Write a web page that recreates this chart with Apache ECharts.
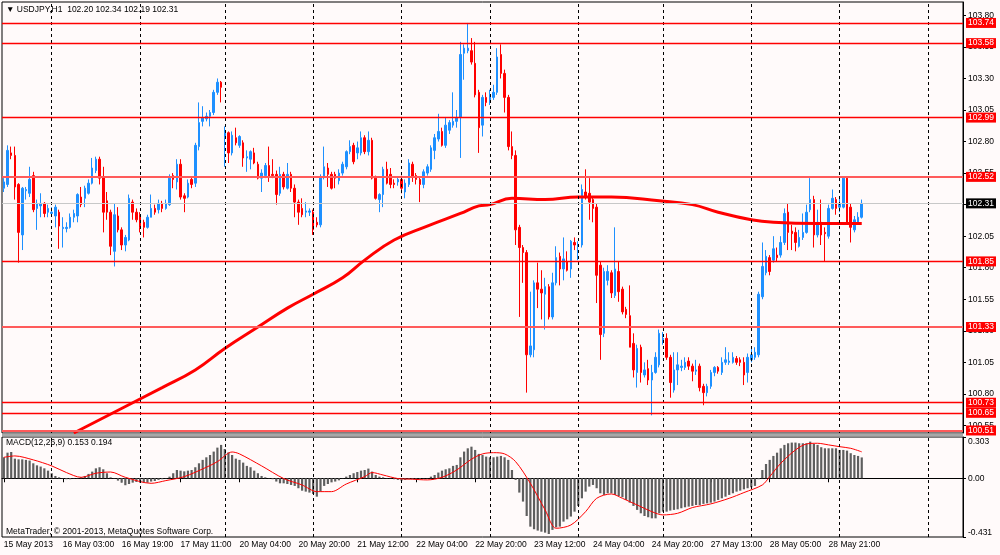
<!DOCTYPE html>
<html>
<head>
<meta charset="utf-8">
<title>USDJPY,H1</title>
<script src="https://cdn.jsdelivr.net/npm/echarts@6/dist/echarts.min.js"></script>
<style>
  html, body { margin: 0; padding: 0; background: #fffafa; }
  #chart { width: 1000px; height: 555px; }
</style>
</head>
<body>
<div id="chart"></div>
<script>
// USDJPY H1, 15 May 2013 11:00 .. 29 May 2013, one entry per hourly bar
const opens = [
  102.43, 102.46, 102.71, 102.69, 102.46, 102.06, 102.41, 102.39, 102.53, 102.27,
  102.29, 102.31, 102.24, 102.23, 102.21, 102.24, 102.11, 102.11, 102.12, 102.20,
  102.21, 102.36, 102.35, 102.39, 102.47, 102.57, 102.66, 102.52, 102.33, 102.24,
  101.93, 102.21, 102.10, 101.98, 102.02, 102.32, 102.24, 102.22, 102.16, 102.12,
  102.20, 102.27, 102.26, 102.31, 102.27, 102.30, 102.53, 102.48, 102.62, 102.37,
  102.36, 102.50, 102.47, 102.76, 102.96, 102.98, 103.00, 103.03, 103.19, 103.27,
  102.83, 102.87, 102.71, 102.83, 102.77, 102.79, 102.67, 102.66, 102.71, 102.62,
  102.51, 102.53, 102.61, 102.54, 102.54, 102.39, 102.54, 102.43, 102.54, 102.43,
  102.32, 102.27, 102.24, 102.24, 102.24, 102.16, 102.14, 102.52, 102.59, 102.54,
  102.54, 102.49, 102.55, 102.60, 102.72, 102.77, 102.71, 102.71, 102.83, 102.72,
  102.81, 102.51, 102.34, 102.38, 102.58, 102.54, 102.47, 102.48, 102.50, 102.40,
  102.46, 102.62, 102.53, 102.50, 102.46, 102.55, 102.58, 102.73, 102.82, 102.88,
  102.77, 102.89, 102.93, 102.96, 102.99, 103.50, 103.52, 103.52, 103.42, 103.19,
  102.93, 103.15, 103.13, 103.15, 103.19, 103.49, 103.34, 103.15, 102.76, 102.69,
  102.12, 101.96, 101.92, 101.11, 101.15, 101.68, 101.63, 101.59, 101.65, 101.41,
  101.68, 101.89, 101.79, 101.85, 101.79, 102.00, 101.97, 101.98, 102.40, 102.39,
  102.34, 102.28, 101.82, 101.28, 101.70, 101.76, 101.58, 101.77, 101.63, 101.47,
  101.42, 101.20, 100.97, 101.17, 100.95, 101.00, 100.91, 100.97, 101.03, 101.23,
  101.24, 101.09, 100.83, 100.99, 101.01, 101.01, 101.06, 101.02, 100.98, 101.02,
  100.86, 100.81, 100.86, 100.97, 101.01, 100.97, 101.05, 101.05, 101.05, 101.08,
  101.07, 101.05, 100.97, 101.07, 101.09, 101.11, 101.57, 101.76, 101.88, 101.86,
  101.90, 101.90, 102.00, 102.24, 102.09, 102.08, 101.97, 102.04, 102.08, 102.26,
  102.34, 102.06, 102.16, 102.08, 102.05, 102.27, 102.34, 102.28, 102.28, 102.51,
  102.28, 102.10, 102.16, 102.20
];
const highs = [
  102.51, 102.77, 102.76, 102.76, 102.47, 102.44, 102.44, 102.60, 102.56, 102.34,
  102.39, 102.32, 102.30, 102.28, 102.30, 102.26, 102.20, 102.16, 102.23, 102.26,
  102.39, 102.44, 102.45, 102.50, 102.67, 102.68, 102.68, 102.60, 102.40, 102.26,
  102.31, 102.28, 102.12, 102.06, 102.38, 102.34, 102.27, 102.24, 102.18, 102.22,
  102.38, 102.30, 102.34, 102.33, 102.34, 102.54, 102.55, 102.66, 102.66, 102.39,
  102.50, 102.52, 102.79, 103.11, 103.08, 103.03, 103.05, 103.21, 103.30, 103.28,
  102.92, 102.88, 102.88, 102.91, 102.85, 102.81, 102.73, 102.73, 102.75, 102.64,
  102.58, 102.63, 102.76, 102.66, 102.57, 102.60, 102.56, 102.63, 102.56, 102.46,
  102.34, 102.35, 102.32, 102.27, 102.26, 102.20, 102.54, 102.76, 102.63, 102.56,
  102.56, 102.58, 102.64, 102.73, 102.81, 102.79, 102.80, 102.88, 102.85, 102.88,
  102.83, 102.53, 102.39, 102.60, 102.64, 102.59, 102.50, 102.52, 102.53, 102.50,
  102.66, 102.64, 102.55, 102.52, 102.58, 102.62, 102.77, 102.86, 103.02, 102.91,
  102.99, 102.97, 103.19, 103.05, 103.59, 103.57, 103.74, 103.62, 103.59, 103.21,
  103.17, 103.19, 103.21, 103.25, 103.54, 103.57, 103.37, 103.17, 102.88, 102.73,
  102.14, 101.98, 101.94, 101.61, 101.70, 101.84, 101.78, 101.72, 101.67, 101.76,
  101.97, 101.92, 102.04, 101.93, 102.02, 102.04, 102.01, 102.46, 102.58, 102.51,
  102.36, 102.31, 101.85, 101.80, 101.82, 101.78, 102.12, 101.85, 101.65, 101.49,
  101.66, 101.28, 101.19, 101.19, 101.05, 101.07, 101.03, 101.13, 101.31, 101.29,
  101.28, 101.11, 101.13, 101.13, 101.07, 101.09, 101.09, 101.04, 101.07, 101.04,
  100.88, 100.88, 100.99, 101.02, 101.02, 101.09, 101.17, 101.13, 101.13, 101.10,
  101.09, 101.09, 101.12, 101.17, 101.17, 101.61, 102.00, 101.94, 101.90, 102.05,
  101.96, 102.05, 102.27, 102.31, 102.14, 102.12, 102.10, 102.23, 102.30, 102.51,
  102.37, 102.26, 102.34, 102.12, 102.30, 102.42, 102.36, 102.35, 102.52, 102.52,
  102.31, 102.21, 102.24, 102.34
];
const lows = [
  102.40, 102.44, 102.66, 102.34, 101.84, 101.94, 102.34, 102.36, 102.24, 102.10,
  102.20, 102.20, 102.20, 102.21, 102.12, 101.95, 101.96, 102.08, 102.11, 102.16,
  102.16, 102.28, 102.28, 102.38, 102.46, 102.55, 102.46, 102.08, 102.18, 101.90,
  101.81, 102.08, 101.94, 101.93, 102.01, 102.18, 102.16, 102.08, 102.04, 102.11,
  102.20, 102.22, 102.23, 102.24, 102.26, 102.29, 102.43, 102.42, 102.34, 102.24,
  102.35, 102.43, 102.44, 102.73, 102.92, 102.96, 102.92, 103.01, 103.17, 103.11,
  102.60, 102.63, 102.69, 102.77, 102.75, 102.60, 102.56, 102.58, 102.62, 102.50,
  102.40, 102.51, 102.48, 102.51, 102.30, 102.37, 102.42, 102.42, 102.40, 102.20,
  102.14, 102.20, 102.20, 102.21, 102.06, 102.12, 102.12, 102.50, 102.44, 102.42,
  102.43, 102.46, 102.53, 102.58, 102.70, 102.62, 102.66, 102.69, 102.70, 102.69,
  102.50, 102.34, 102.24, 102.28, 102.46, 102.43, 102.43, 102.45, 102.39, 102.35,
  102.44, 102.48, 102.46, 102.32, 102.43, 102.53, 102.56, 102.66, 102.80, 102.76,
  102.75, 102.86, 102.91, 102.91, 102.67, 103.29, 103.50, 103.41, 103.15, 102.71,
  102.84, 103.08, 103.09, 103.13, 103.17, 103.30, 103.03, 102.73, 102.66, 101.98,
  101.41, 101.68, 100.81, 101.09, 101.09, 101.48, 101.39, 101.31, 101.39, 101.39,
  101.66, 101.66, 101.70, 101.77, 101.72, 101.94, 101.86, 101.96, 102.34, 102.18,
  102.16, 101.52, 101.07, 101.25, 101.66, 101.56, 101.56, 101.53, 101.43, 101.40,
  101.17, 100.93, 100.85, 100.89, 100.93, 100.87, 100.63, 100.96, 101.01, 101.19,
  101.07, 100.77, 100.81, 100.87, 100.98, 100.99, 100.99, 100.90, 100.95, 100.82,
  100.71, 100.78, 100.84, 100.94, 100.96, 100.95, 101.03, 101.03, 101.04, 101.03,
  101.02, 100.87, 100.89, 101.05, 101.07, 101.09, 101.55, 101.74, 101.74, 101.84,
  101.85, 101.88, 101.98, 101.94, 101.94, 101.93, 101.96, 102.02, 102.07, 102.24,
  101.96, 102.04, 101.98, 101.85, 102.03, 102.26, 102.22, 102.24, 102.27, 102.15,
  102.00, 102.08, 102.14, 102.19
];
const closes = [
  102.48, 102.73, 102.69, 102.44, 102.08, 102.43, 102.42, 102.50, 102.26, 102.31,
  102.31, 102.23, 102.27, 102.24, 102.28, 102.13, 102.12, 102.12, 102.20, 102.23,
  102.38, 102.30, 102.43, 102.47, 102.59, 102.66, 102.51, 102.24, 102.24, 101.97,
  102.22, 102.10, 101.98, 102.04, 102.35, 102.24, 102.18, 102.12, 102.12, 102.20,
  102.27, 102.24, 102.31, 102.27, 102.31, 102.51, 102.50, 102.62, 102.36, 102.35,
  102.47, 102.46, 102.77, 102.95, 102.99, 103.00, 103.03, 103.19, 103.27, 103.23,
  102.87, 102.71, 102.85, 102.79, 102.84, 102.67, 102.68, 102.72, 102.63, 102.51,
  102.55, 102.61, 102.52, 102.53, 102.38, 102.54, 102.44, 102.54, 102.43, 102.32,
  102.24, 102.22, 102.25, 102.25, 102.10, 102.14, 102.52, 102.60, 102.54, 102.43,
  102.51, 102.55, 102.62, 102.72, 102.76, 102.64, 102.75, 102.83, 102.72, 102.81,
  102.51, 102.35, 102.38, 102.58, 102.47, 102.46, 102.46, 102.50, 102.43, 102.47,
  102.63, 102.52, 102.50, 102.46, 102.56, 102.60, 102.75, 102.83, 102.88, 102.77,
  102.93, 102.95, 102.96, 102.99, 103.49, 103.54, 103.54, 103.43, 103.17, 102.91,
  103.15, 103.11, 103.17, 103.19, 103.47, 103.34, 103.15, 102.76, 102.69, 102.10,
  101.96, 101.92, 101.11, 101.18, 101.68, 101.63, 101.60, 101.65, 101.41, 101.68,
  101.88, 101.79, 101.87, 101.78, 102.01, 101.98, 101.98, 102.42, 102.36, 102.32,
  102.27, 101.74, 101.27, 101.77, 101.77, 101.60, 101.79, 101.61, 101.45, 101.43,
  101.17, 100.99, 101.16, 100.97, 100.99, 100.91, 100.97, 101.09, 101.28, 101.24,
  101.09, 100.89, 100.99, 101.03, 101.02, 101.05, 101.02, 100.98, 100.99, 100.85,
  100.81, 100.86, 100.97, 101.01, 100.98, 101.05, 101.07, 101.06, 101.09, 101.05,
  101.05, 100.95, 101.09, 101.11, 101.13, 101.59, 101.81, 101.89, 101.77, 101.95,
  101.88, 102.00, 102.23, 102.08, 102.07, 102.00, 102.04, 102.08, 102.24, 102.34,
  102.06, 102.16, 102.06, 102.07, 102.27, 102.35, 102.27, 102.31, 102.51, 102.16,
  102.12, 102.18, 102.20, 102.31
];

// MACD(12,26,9) main line (grey histogram), one value per bar
const macd = [
  0.154, 0.188, 0.193, 0.144, 0.139, 0.139, 0.135, 0.130, 0.110, 0.095,
  0.086, 0.073, 0.056, 0.037, 0.017, 0.007, -0.002, -0.007, -0.007, -0.002,
  0.002, 0.007, 0.017, 0.032, 0.049, 0.073, 0.081, 0.066, 0.037, 0.007,
  -0.002, -0.017, -0.032, -0.051, -0.042, -0.032, -0.027, -0.032, -0.032, -0.032,
  -0.024, -0.020, -0.012, -0.007, -0.002, 0.012, 0.037, 0.061, 0.056, 0.051,
  0.056, 0.061, 0.081, 0.110, 0.135, 0.154, 0.171, 0.196, 0.225, 0.245,
  0.215, 0.190, 0.171, 0.144, 0.135, 0.115, 0.091, 0.081, 0.056, 0.037,
  0.017, 0.007, 0.002, -0.007, -0.024, -0.037, -0.037, -0.042, -0.049, -0.056,
  -0.073, -0.091, -0.098, -0.105, -0.115, -0.135, -0.098, -0.056, -0.042, -0.030,
  -0.024, -0.015, -0.002, 0.012, 0.024, 0.037, 0.046, 0.056, 0.061, 0.071,
  0.049, 0.024, 0.012, 0.007, 0.002, -0.002, -0.007, -0.012, -0.017, -0.012,
  -0.007, -0.007, -0.007, -0.005, -0.002, -0.002, 0.012, 0.024, 0.042, 0.056,
  0.066, 0.073, 0.091, 0.098, 0.154, 0.196, 0.220, 0.232, 0.208, 0.179,
  0.171, 0.159, 0.154, 0.154, 0.159, 0.164, 0.154, 0.135, 0.061, -0.012,
  -0.105, -0.171, -0.277, -0.355, -0.374, -0.384, -0.392, -0.399, -0.409, -0.379,
  -0.360, -0.355, -0.318, -0.301, -0.281, -0.245, -0.203, -0.147, -0.098, -0.061,
  -0.049, -0.073, -0.110, -0.122, -0.110, -0.110, -0.122, -0.130, -0.139, -0.159,
  -0.179, -0.203, -0.232, -0.257, -0.277, -0.286, -0.294, -0.294, -0.257, -0.245,
  -0.245, -0.237, -0.232, -0.228, -0.220, -0.213, -0.208, -0.203, -0.196, -0.196,
  -0.188, -0.184, -0.179, -0.171, -0.159, -0.147, -0.135, -0.122, -0.110, -0.098,
  -0.091, -0.081, -0.073, -0.066, -0.056, -0.007, 0.061, 0.105, 0.135, 0.164,
  0.188, 0.220, 0.245, 0.257, 0.262, 0.262, 0.257, 0.257, 0.257, 0.269,
  0.252, 0.245, 0.228, 0.220, 0.220, 0.220, 0.220, 0.208, 0.208, 0.203,
  0.184, 0.171, 0.164, 0.153
];

// signal line, read at a number of bars: [bar, value]
const signal = [
  [0, 0.154], [3, 0.164], [8, 0.135], [13, 0.091], [17, 0.042], [21, 0.007],
  [25, 0.037], [29, 0.046], [33, 0.007], [40, -0.037], [44, -0.017], [49, 0.012],
  [55, 0.081], [58, 0.122], [62, 0.193], [64, 0.179], [70, 0.091], [76, -0.002],
  [81, -0.049], [85, -0.098], [89, -0.098], [93, -0.042], [98, 0.012], [100, 0.042],
  [103, 0.024], [107, -0.002], [111, -0.007], [115, -0.012], [119, 0.007], [123, 0.061],
  [127, 0.140], [130, 0.179], [133, 0.188], [136, 0.179], [139, 0.122], [143, -0.037],
  [147, -0.232], [150, -0.367], [154, -0.343], [158, -0.245], [161, -0.147], [165, -0.115],
  [168, -0.147], [172, -0.196], [176, -0.245], [179, -0.269], [183, -0.257], [187, -0.215],
  [192, -0.188], [197, -0.147], [201, -0.105], [206, -0.049], [208, 0.012], [211, 0.110],
  [215, 0.208], [218, 0.252], [221, 0.257], [224, 0.245], [227, 0.232], [230, 0.220],
  [233, 0.194]
];

// thick red moving average, read at a number of bars: [bar, price]
const movingAvg = [
  [19, 100.49], [43, 100.85], [52, 100.99], [60, 101.16], [69, 101.33], [77, 101.48],
  [84, 101.59], [92, 101.72], [98, 101.86], [106, 102.02], [115, 102.13], [124, 102.23],
  [129, 102.29], [132, 102.30], [138, 102.35], [147, 102.34], [156, 102.36], [165, 102.36],
  [178, 102.33], [187, 102.30], [194, 102.24], [203, 102.18], [209, 102.16], [221, 102.15],
  [233, 102.15]
];

const levels = [103.74, 103.58, 102.99, 102.52, 101.85, 101.33, 100.73, 100.65, 100.51];
const wideLevels = [102.52, 101.33, 100.51];
const bid = 102.31;

const priceTicks = [100.55, 100.80, 101.05, 101.30, 101.55, 101.80, 102.05, 102.30,
  102.55, 102.80, 103.05, 103.30, 103.55, 103.80];
const macdTicks = [-0.431, 0, 0.303];

const timeLabels = ['15 May 2013', '16 May 03:00', '16 May 19:00', '17 May 11:00',
  '20 May 04:00', '20 May 20:00', '21 May 12:00', '22 May 04:00', '22 May 20:00',
  '23 May 12:00', '24 May 04:00', '24 May 20:00', '27 May 13:00', '28 May 05:00',
  '28 May 21:00'];
const labelStep = 16;          // bars between time labels
const dayStarts = [13, 37, 60, 84, 108, 132, 156, 179, 203, 227, 251];
const slotCount = 261;          // bars that fit the window, incl. the empty right margin

const FONT = 'Liberation Sans';
const FS = 8.5;
const RED = '#ff0000';

const slots = Array.from({ length: slotCount }, (_, i) => String(i));
const candles = opens.map((o, i) => [o, closes[i], lows[i], highs[i]]);

const dayLines = dayStarts.map(i => ({ xAxis: String(i) }));

const boxLabel = (text, bg) => ({
  show: true, position: 'end', distance: 3, formatter: text,
  backgroundColor: bg, color: '#fff', padding: [1, 2, 0, 2],
  fontFamily: FONT, fontSize: FS, lineHeight: 9
});

// 1px red lines come out dark here, so the thin ones get a touch more width
const levelLines = levels.map(v => {
  const wide = wideLevels.includes(v);
  return {
    yAxis: v,
    lineStyle: { color: wide ? '#ff5a5a' : RED, width: wide ? 2 : 1.3, type: 'solid' },
    label: boxLabel(v.toFixed(2), RED)
  };
});
const bidLine = {
  yAxis: bid,
  lineStyle: { color: '#c8c8c8', width: 1, type: 'solid' },
  label: boxLabel(bid.toFixed(2), '#000')
};

const dashedMarks = {
  silent: true, symbol: ['none', 'none'], animation: false,
  lineStyle: { color: '#000', width: 1, type: [3, 3] },
  label: { show: false },
  data: dayLines
};

const showTick = i => i % labelStep === 0 && i / labelStep < timeLabels.length;

const chart = echarts.init(document.getElementById('chart'));

chart.setOption({
  animation: false,
  backgroundColor: '#fffafa',
  grid: [
    { left: 2, right: 37, top: 2, height: 431, show: true, borderColor: '#000', borderWidth: 1 },
    { left: 2, right: 37, top: 437, height: 100, show: true, borderColor: '#000', borderWidth: 1 }
  ],
  xAxis: [
    {
      type: 'category', gridIndex: 0, data: slots, boundaryGap: true,
      axisLine: { show: false }, axisTick: { show: false }, axisLabel: { show: false },
      splitLine: { show: false }
    },
    {
      type: 'category', gridIndex: 1, data: slots, boundaryGap: true,
      axisLine: { show: true, lineStyle: { color: '#000' } },
      axisTick: { show: true, interval: showTick, alignWithLabel: true, length: 4, lineStyle: { color: '#000' } },
      axisLabel: {
        interval: showTick, align: 'left', margin: 3,
        formatter: (v, i) => timeLabels[i / labelStep] || '',
        color: '#000', fontFamily: FONT, fontSize: FS
      },
      splitLine: { show: false }
    }
  ],
  yAxis: [
    {
      type: 'value', gridIndex: 0, position: 'right', min: 100.49, max: 103.906,
      axisLine: { show: true, lineStyle: { color: '#000' } },
      axisTick: { show: true, length: 3, customValues: priceTicks, lineStyle: { color: '#000' } },
      axisLabel: {
        customValues: priceTicks, formatter: v => v.toFixed(2), margin: 5,
        color: '#000', fontFamily: FONT, fontSize: FS
      },
      splitLine: { show: false }
    },
    {
      type: 'value', gridIndex: 1, position: 'right', min: -0.431, max: 0.303,
      axisLine: { show: true, lineStyle: { color: '#000' } },
      axisTick: { show: true, length: 3, customValues: macdTicks, lineStyle: { color: '#000' } },
      axisLabel: {
        customValues: macdTicks, margin: 5,
        formatter: v => v === 0 ? '{m|0.00}' : (v > 0 ? '{t|' + v.toFixed(3) + '}' : '{b|' + v.toFixed(3) + '}'),
        color: '#000', fontFamily: FONT, fontSize: FS,
        rich: {
          t: { padding: [9, 0, 0, 0], color: '#000', fontFamily: FONT, fontSize: FS },
          m: { color: '#000', fontFamily: FONT, fontSize: FS },
          b: { padding: [0, 0, 9, 0], color: '#000', fontFamily: FONT, fontSize: FS }
        }
      },
      splitLine: { show: false }
    }
  ],
  series: [
    {
      name: 'USDJPY', type: 'candlestick', xAxisIndex: 0, yAxisIndex: 0,
      data: candles, barWidth: 2,
      itemStyle: {
        color: '#1e90ff', color0: RED,
        borderColor: '#1e90ff', borderColor0: RED, borderWidth: 1
      },
      markLine: dashedMarks
    },
    {
      name: 'MA', type: 'line', xAxisIndex: 0, yAxisIndex: 0, z: 4,
      data: movingAvg, showSymbol: false, smooth: 0.45,
      color: RED,
      lineStyle: { color: RED, width: 3 },
      markLine: {
        silent: true, symbol: ['none', 'none'], animation: false,
        lineStyle: { color: RED, width: 1.3, type: 'solid' },
        data: [...levelLines, bidLine]
      }
    },
    {
      name: 'MACD', type: 'bar', xAxisIndex: 1, yAxisIndex: 1,
      data: macd, barWidth: 2.2,
      itemStyle: { color: '#5e5e5e' },
      markLine: dashedMarks
    },
    {
      name: 'Signal', type: 'line', xAxisIndex: 1, yAxisIndex: 1, z: 4,
      data: signal, showSymbol: false, smooth: 0.3,
      lineStyle: { color: RED, width: 1 }
    }
  ],
  graphic: [
    { type: 'rect', shape: { x: 2, y: 433.5, width: 961, height: 3 }, style: { fill: '#a8a8a8' }, silent: true },
    {
      type: 'text', x: 6, y: 10, silent: true,
      style: { text: '\u25BC USDJPY,H1  102.20 102.34 102.19 102.31', fill: '#000',
        font: FS + 'px "' + FONT + '"', verticalAlign: 'middle' }
    },
    {
      type: 'text', x: 6, y: 443, silent: true,
      style: { text: 'MACD(12,26,9) 0.153 0.194', fill: '#000',
        font: FS + 'px "' + FONT + '"', verticalAlign: 'middle' }
    },
    {
      type: 'text', x: 6, y: 532, silent: true,
      style: { text: 'MetaTrader, \u00A9 2001-2013, MetaQuotes Software Corp.', fill: '#000',
        font: FS + 'px "' + FONT + '"', verticalAlign: 'middle' }
    }
  ]
});
</script>
</body>
</html>
